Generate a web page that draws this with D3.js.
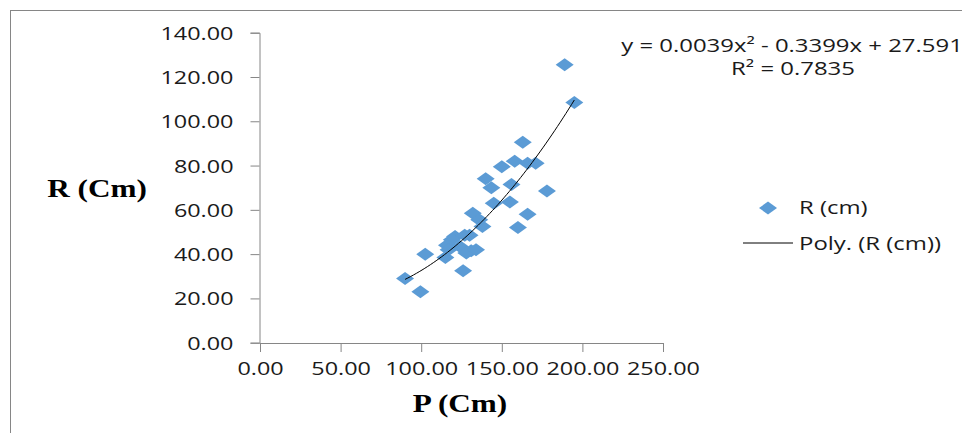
<!DOCTYPE html>
<html>
<head>
<meta charset="utf-8">
<script src="https://cdn.jsdelivr.net/npm/d3@7"></script>
<style>
  html, body { margin: 0; padding: 0; background: #fff; }
  svg { display: block; }
</style>
</head>
<body>
<svg id="chart" width="962" height="433"></svg>
<script>
// Measurements: P (girth) against R, both in cm
const pValues = [189, 195, 163, 158, 150, 166, 171, 140, 143.5, 156, 178, 145, 155, 132, 166, 138, 160, 136,
                 121, 130, 127, 119, 116, 124, 131, 128, 134, 102.5, 115, 126, 90, 99.5, 117];
const rValues = [125.5, 108.5, 90.5, 82, 79.5, 81, 81, 74, 70, 71.5, 68.5, 63, 63.5, 58.5, 58, 52.5, 52, 55.5,
                 48, 48.5, 48.5, 46.5, 44, 43.5, 41.5, 40.5, 42, 40, 38.5, 32.5, 29, 23, 42];
const xTicks = [0, 50, 100, 150, 200, 250];
const yTicks = [0, 20, 40, 60, 80, 100, 120, 140];
// Second-order polynomial trend: y = a x^2 + b x + c
const trendCoef = [0.0039, -0.3399, 27.591];
const trendLabel = "y = 0.0039x² - 0.3399x + 27.591";
const r2Label = "R² = 0.7835";
const seriesName = "R (cm)";
const trendName = "Poly. (R (cm))";
const xTitle = "P (Cm)";
const yTitle = "R (Cm)";

const svg = d3.select("#chart");
const AXIS = "#868686";
const BLUE = "#5B9BD5";
const sansFont = "'Open Sans', sans-serif";
const serifFont = "'Liberation Serif', 'DejaVu Serif', serif";

// Outer frame (top and left edges)
svg.append("line").attr("x1", 10).attr("x2", 962).attr("y1", 10.5).attr("y2", 10.5)
  .attr("stroke", AXIS).attr("stroke-width", 1);
svg.append("line").attr("x1", 10.5).attr("x2", 10.5).attr("y1", 10).attr("y2", 433)
  .attr("stroke", AXIS).attr("stroke-width", 1);

const x = d3.scaleLinear().domain([0, 250]).range([260, 663]);
const y = d3.scaleLinear().domain([0, 140]).range([342.7, 32.7]);

// Axes
const yAxis = svg.append("g").attr("transform", "translate(259.5,0)")
  .call(d3.axisLeft(y).tickValues(yTicks).tickFormat(d3.format(".2f")).tickSizeOuter(0).tickSize(9));
const xAxis = svg.append("g").attr("transform", "translate(0,343)")
  .call(d3.axisBottom(x).tickValues(xTicks).tickFormat(d3.format(".2f")).tickSizeOuter(0).tickSize(9));

const TICK_SX = 1.3;
[yAxis, xAxis].forEach(g => {
  g.select(".domain").attr("stroke", AXIS);
  g.selectAll(".tick line").attr("stroke", AXIS);
  g.selectAll(".tick text")
    .attr("fill", "#1a1a1a")
    .style("font-family", sansFont)
    .style("font-size", "18px")
    .attr("x", 0).attr("y", 0).attr("dy", null);
});
yAxis.selectAll(".tick text").attr("text-anchor", "end")
  .attr("transform", `translate(-26,6.5) scale(${TICK_SX},1)`);
xAxis.selectAll(".tick text").attr("text-anchor", "middle")
  .attr("transform", `translate(0,32) scale(${TICK_SX},1)`);

// Helper for horizontally stretched text
function label(txt, px, py, opts) {
  return svg.append("text")
    .attr("transform", `translate(${px},${py}) scale(${opts.sx || 1.25},1)`)
    .attr("text-anchor", opts.anchor || "start")
    .style("font-family", opts.font || sansFont)
    .style("font-size", opts.size + "px")
    .style("font-weight", opts.weight || "normal")
    .attr("fill", opts.fill || "#1a1a1a")
    .text(txt);
}

// Axis titles
label(yTitle, 97, 197, { anchor: "middle", font: serifFont, size: 25, weight: "bold", fill: "#000" });
label(xTitle, 460, 412, { anchor: "middle", font: serifFont, size: 25, weight: "bold", fill: "#000" });

// Points
const diamond = (cx, cy, w, h) => `M${cx},${cy - h / 2}L${cx + w / 2},${cy}L${cx},${cy + h / 2}L${cx - w / 2},${cy}Z`;
const pts = pValues.map((p, i) => ({ p, r: rValues[i] }));
svg.append("g").selectAll("path").data(pts).join("path")
  .attr("d", d => diamond(x(d.p), y(d.r), 18, 13))
  .attr("fill", BLUE);

// Trend line over the data range
const poly = v => trendCoef[0] * v * v + trendCoef[1] * v + trendCoef[2];
const [pMin, pMax] = d3.extent(pValues);
const curve = d3.range(0, 61).map(i => pMin + (pMax - pMin) * i / 60);
svg.append("path")
  .attr("d", d3.line().x(v => x(v)).y(v => y(poly(v)))(curve))
  .attr("fill", "none").attr("stroke", "#000").attr("stroke-width", 1);

// Equation and R²
const TXT_SX = 1.33;
label(trendLabel, 792, 52, { anchor: "middle", size: 18, sx: TXT_SX });
label(r2Label, 793, 75, { anchor: "middle", size: 18, sx: TXT_SX });

// Legend
svg.append("path").attr("d", diamond(768, 208, 18, 13)).attr("fill", BLUE);
label(seriesName, 799, 214, { size: 18, sx: TXT_SX });
svg.append("line").attr("x1", 743).attr("x2", 793).attr("y1", 243).attr("y2", 243)
  .attr("stroke", "#000").attr("stroke-width", 1);
label(trendName, 799, 250, { size: 18, sx: TXT_SX });
</script>
</body>
</html>
